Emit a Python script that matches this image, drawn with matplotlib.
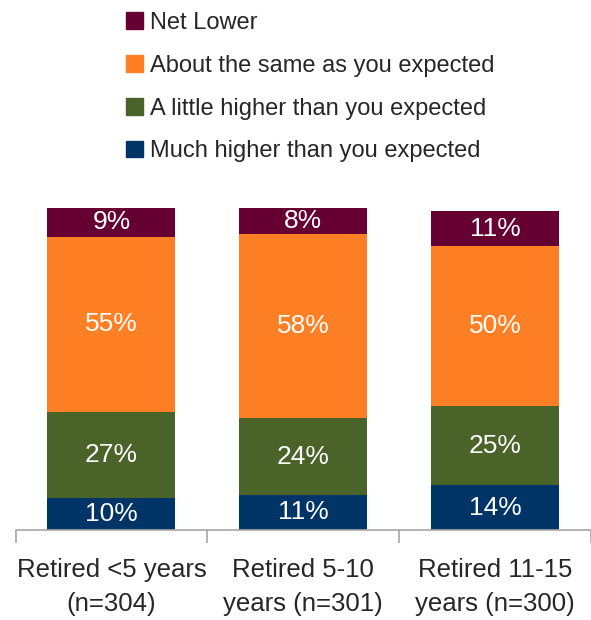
import numpy as np
import matplotlib.pyplot as plt
from matplotlib.patches import Patch

plt.rcParams['font.family'] = ['Liberation Sans Narrow', 'Liberation Sans', 'DejaVu Sans']

categories = ["Retired <5 years\n(n=304)", "Retired 5-10\nyears (n=301)", "Retired 11-15\nyears (n=300)"]
series = ["Much higher than you expected", "A little higher than you expected",
          "About the same as you expected", "Net Lower"]
much_higher = [10, 11, 14]
little_higher = [27, 24, 25]
about_same = [55, 58, 50]
net_lower = [9, 8, 11]
colors = ["#003366", "#4a6328", "#ff7f24", "#660033"]

values = [much_higher, little_higher, about_same, net_lower]

fig = plt.figure(figsize=(5.91, 6.20), dpi=100)
ax = fig.add_axes([15.5 / 591, 90 / 620, 1 - 15.5 / 591, 322 / 620])

x = np.arange(len(categories))
bottom = np.zeros(len(categories))
for vals, col, name in zip(values, colors, series):
    vals = np.array(vals, dtype=float)
    ax.bar(x, vals, bottom=bottom, width=0.667, color=col, label=name)
    for xi, b, v in zip(x, bottom, vals):
        ax.text(xi, b + v / 2, f"{v:.0f}%", ha="center", va="center",
                color="white", fontsize=19)
    bottom += vals

ax.set_xlim(-0.5, 2.45)
ax.set_ylim(0, 101)
for s in ["top", "right", "left"]:
    ax.spines[s].set_visible(False)
ax.spines["bottom"].set_color("#a6a6a6")
ax.spines["bottom"].set_linewidth(1.2)
ax.set_yticks([])
ax.set_xticks(x)
ax.set_xticklabels(categories, fontsize=18.5, color="#262626", linespacing=1.55)
ax.tick_params(axis="x", which="major", length=0, pad=20)
ax.set_xticks([-0.5, 0.5, 1.5, 2.5], minor=True)
ax.tick_params(axis="x", which="minor", length=9, width=1.2, color="#a6a6a6")

handles = [Patch(color=c) for c in colors][::-1]
fig.legend(handles, series[::-1], loc="upper left", bbox_to_anchor=(105 / 591, 1.015),
           frameon=False, fontsize=17, handlelength=0.7, handleheight=0.7,
           handletextpad=0.3, labelspacing=0.88, labelcolor="#262626")

fig.savefig("out.png", dpi=100)
